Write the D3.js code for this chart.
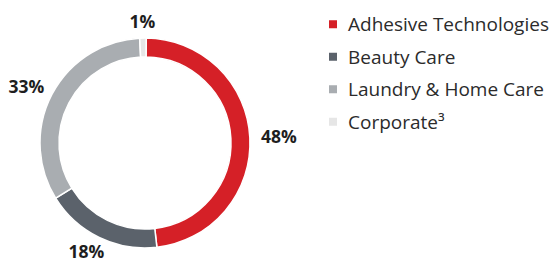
<!DOCTYPE html>
<html>
<head>
<meta charset="utf-8">
<script src="https://cdn.jsdelivr.net/npm/d3@7"></script>
<style>
  body { margin: 0; background: #fff; }
  svg { display: block; }
</style>
</head>
<body>
<svg id="chart"></svg>
<script>
const categories = ["Adhesive Technologies", "Beauty Care", "Laundry & Home Care", "Corporate³"]
const shares = [48, 18, 33, 1]
const labels = ["48%", "18%", "33%", "1%"]
const colors = ["#d52027", "#5b626b", "#a9adb1", "#e6e6e6"]

const w = 553, h = 268
const cx = 145, cy = 143
const outerR = 105, innerR = 86

const svg = d3.select("#chart")
              .attr("width", w)
              .attr("height", h)

const pie = d3.pie()
              .sort(null)
              .value((d) => d)
              .startAngle(0.012)
              .endAngle(0.012 + 2 * Math.PI)

const arcs = pie(shares)

const arc = d3.arc()
              .innerRadius(innerR)
              .outerRadius(outerR)

const g = svg.append("g")
             .attr("transform", "translate(" + cx + "," + cy + ")")

g.selectAll("path")
 .data(arcs)
 .enter()
 .append("path")
   .attr("d", arc)
   .attr("fill", (d, i) => colors[i])
   .attr("stroke", "#fff")
   .attr("stroke-width", 1.5)

// labels sit on an ellipse around the ring
const rx = 134, ry = 121
g.selectAll("text.pct")
 .data(arcs)
 .enter()
 .append("text")
   .attr("class", "pct")
   .attr("x", (d) => rx * Math.sin((d.startAngle + d.endAngle) / 2))
   .attr("y", (d) => -ry * Math.cos((d.startAngle + d.endAngle) / 2))
   .attr("dy", "0.36em")
   .attr("text-anchor", "middle")
   .style("font-family", "'Open Sans', sans-serif")
   .style("font-weight", "bold")
   .style("font-size", "17.5px")
   .style("fill", "#1e1e1e")
   .text((d, i) => labels[i])

const y = d3.scaleBand()
            .domain(categories)
            .range([8, 138])

const legend = svg.append("g")

const rows = legend.selectAll("g")
                   .data(categories)
                   .enter()
                   .append("g")
                   .attr("transform", (d) => "translate(329," + (y(d) + y.bandwidth() / 2) + ")")

rows.append("rect")
    .attr("x", 0)
    .attr("y", -4)
    .attr("width", 8)
    .attr("height", 8)
    .attr("fill", (d, i) => colors[i])

rows.append("text")
    .attr("x", 19)
    .attr("dy", "0.36em")
    .style("font-family", "'Open Sans', sans-serif")
    .style("font-size", "19px")
    .style("fill", "#2b2b2b")
    .text((d) => d)
</script>
</body>
</html>
